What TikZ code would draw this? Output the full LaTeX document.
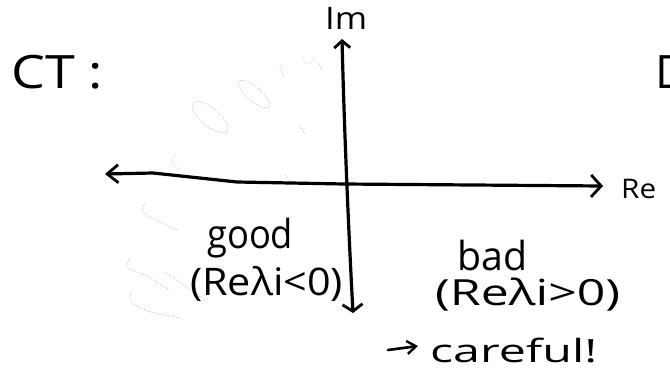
\documentclass[tikz,border=0pt]{standalone}
\usepackage{fontspec}
\usepackage{graphicx}
\setmainfont{Open Sans}
\usetikzlibrary{arrows.meta}
\tikzset{
  axis/.style={line width=3.2pt, line cap=round, line join=round},
  hbarbs/.style={{Straight Barb[length=11pt,width=18pt,line width=2.8pt]}-{Straight Barb[length=10pt,width=22pt,line width=2.8pt]}},
  vbarbs/.style={{Straight Barb[length=7pt,width=16pt,line width=2.8pt]}-{Straight Barb[length=7pt,width=20pt,line width=2.8pt]}},
  barb/.style={line width=2.6pt, line cap=round, -{Straight Barb[length=9pt,width=13pt,line width=2.4pt]}},
  hand/.style={inner sep=0pt, anchor=base west},
  faint/.style={gray!45, line width=0.8pt, dotted, line cap=round},
}
\newcommand{\hw}[3]{\resizebox{#1pt}{\height}{\fontsize{#2}{#2}\selectfont #3}}
\begin{document}
\begin{tikzpicture}[x=1pt,y=-1pt]
\useasboundingbox (0,0) rectangle (670,381);
% faint erased scribbles
\draw[faint, rotate around={-40:(254,94)}] (254,94) ellipse (20pt and 7pt);
\draw[faint, rotate around={-40:(210,117)}] (210,117) ellipse (22pt and 9pt);
\draw[faint] (303,58) arc (200:340:6pt and 9pt);
\draw[faint] (280,65) -- (284,78);
\draw[faint] (318,62) -- (322,70);
\draw[faint] (300,126) -- (306,135);
\draw[faint] (175,155) .. controls (170,162) .. (180,170);
\draw[faint] (145,203) .. controls (140,212) .. (160,222) -- (178,230);
\draw[faint] (130,258) .. controls (124,268) .. (145,275) -- (170,290);
\draw[faint] (132,292) .. controls (128,302) .. (150,312) -- (180,318);
\draw[faint] (165,272) -- (205,300);
\draw[faint] (285,175) -- (292,186);
% axes
\coordinate (T) at (342,39);
\coordinate (B) at (353,313);
\coordinate (L) at (105,174);
\coordinate (R) at (603,186);
\coordinate (O) at (344,184);
\draw[axis, hbarbs] (L) -- (153,173) -- (237,182) -- (O) -- (R);
\draw[axis, vbarbs] (T) .. controls (344,120) and (348,220) .. (B);
% labels
\node[hand] (ct) at (11,88) {\hw{92}{46}{CT :}};
\node[hand] (im) at (325,29) {\hw{42}{31}{Im}};
\node[hand] (re) at (621,198) {\hw{35}{27}{Re}};
\node[hand] (good) at (207,248) {\hw{86}{40}{good}};
\node[hand] (gcond) at (190,295) {\hw{153}{38}{(Reλi<0)}};
\node[hand] (bad) at (457,270) {\hw{70}{40}{bad}};
\node[hand] (bcond) at (435,305) {\hw{185}{36}{(Reλi>0)}};
\node[hand] (careful) at (430,362) {\hw{167}{32}{careful!}};
\node[hand] (dt) at (655,88) {\fontsize{46}{46}\selectfont D};
\coordinate (ca) at (388,350);
\coordinate (cb) at (418,346);
\draw[barb] (ca) -- (cb);
\end{tikzpicture}
\end{document}
